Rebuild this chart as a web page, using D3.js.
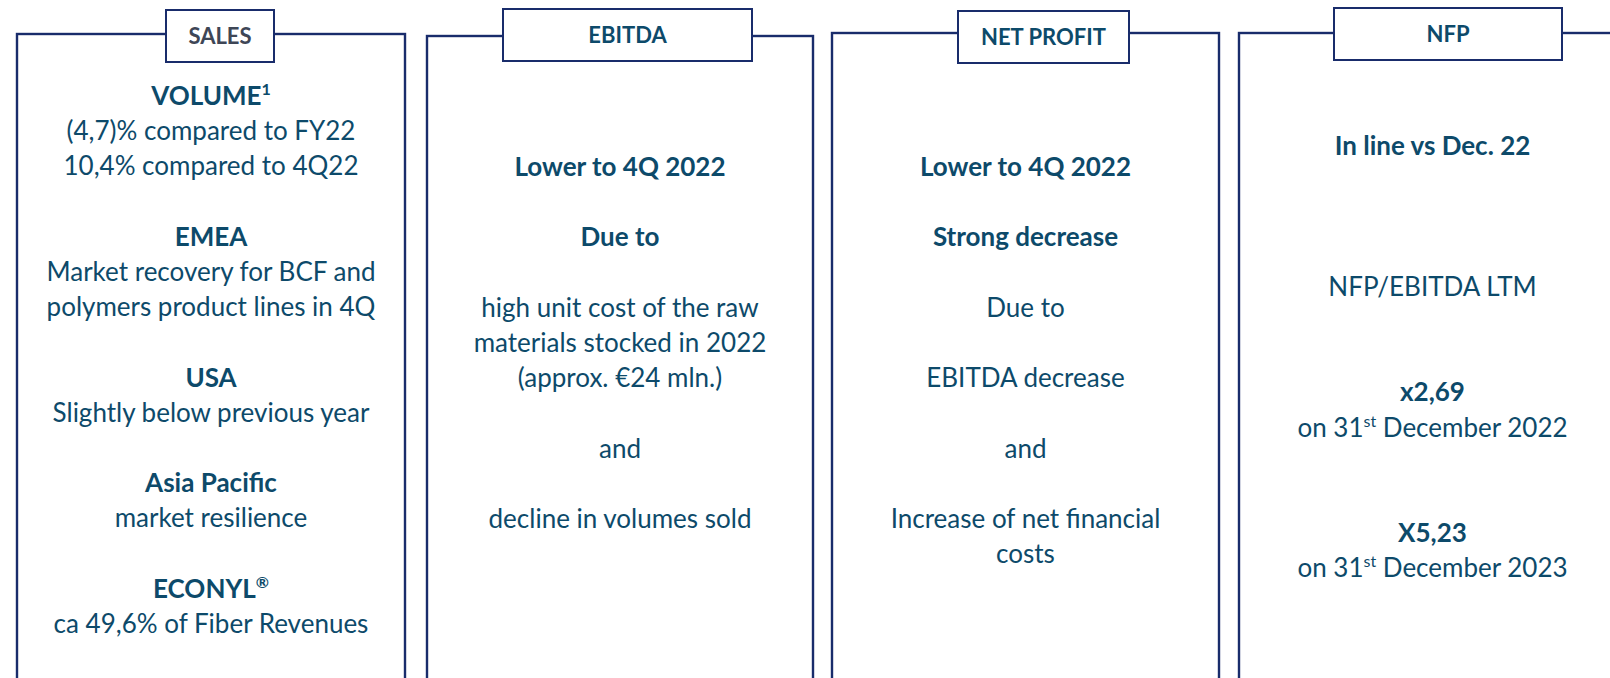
<!DOCTYPE html>
<html>
<head>
<meta charset="utf-8">
<script src="https://cdn.jsdelivr.net/npm/d3@7"></script>
<style>
  html, body { margin: 0; padding: 0; background: #fff; }
  svg { display: block; }
</style>
</head>
<body>
<div id="chart"></div>
<script>
const WIDTH = 1610;
const HEIGHT = 678;

// panel titles
const titles = ['SALES', 'EBITDA', 'NET PROFIT', 'NFP'];

// text of each panel, one entry per line slot ('' = empty line)
// '#' marks a bold line, '^' starts a superscript
const salesLines = [
    '#VOLUME^1', '(4,7)% compared to FY22', '10,4% compared to 4Q22', '',
    '#EMEA', 'Market recovery for BCF and', 'polymers product lines in 4Q', '',
    '#USA', 'Slightly below previous year', '',
    '#Asia Pacific', 'market resilience', '',
    '#ECONYL^®', 'ca 49,6% of Fiber Revenues'
];
const ebitdaLines = [
    '#Lower to 4Q 2022', '',
    '#Due to', '',
    'high unit cost of the raw', 'materials stocked in 2022', '(approx. €24 mln.)', '',
    'and', '',
    'decline in volumes sold'
];
const netProfitLines = [
    '#Lower to 4Q 2022', '',
    '#Strong decrease', '',
    'Due to', '',
    'EBITDA decrease', '',
    'and', '',
    'Increase of net financial', 'costs'
];
const nfpLines = [
    '#In line vs Dec. 22', '', '', '',
    'NFP/EBITDA LTM', '', '',
    '#x2,69', 'on 31^st December 2022', '', '',
    '#X5,23', 'on 31^st December 2023'
];
const panelLines = [salesLines, ebitdaLines, netProfitLines, nfpLines];

// layout (not data)
const boxX = [17, 427, 832, 1239];
const boxW = [388, 386, 387, 387];
const boxTop = [34, 36, 33, 33];
const firstLineY = [96, 167, 167, 146];
const tabs = [
    { x: 166, w: 108, y: 10 },
    { x: 503, w: 249, y: 9 },
    { x: 958, w: 171, y: 11 },
    { x: 1334, w: 228, y: 8 }
];
const LINE_STEP = 35.2;
const TAB_H = 52;

const LINE_COLOR = '#192c6b';
const TEXT_COLOR = '#0d4a6a';
const SALES_COLOR = '#3e4656';
const FONT = 'Lato, "Open Sans", sans-serif';

const svg = d3.select('#chart')
    .append('svg')
    .attr('width', WIDTH)
    .attr('height', HEIGHT);

svg.append('rect')
    .attr('width', WIDTH)
    .attr('height', HEIGHT)
    .attr('fill', '#fff');

const panels = svg.selectAll('g.panel')
    .data(titles.map((t, i) => ({ title: t, i: i, lines: panelLines[i] })))
    .enter().append('g')
    .attr('class', 'panel');

// outer box, open at the bottom of the page
panels.append('rect')
    .attr('x', d => boxX[d.i])
    .attr('y', d => boxTop[d.i])
    .attr('width', d => boxW[d.i])
    .attr('height', HEIGHT + 40)
    .attr('fill', 'none')
    .attr('stroke', LINE_COLOR)
    .attr('stroke-width', 2.4);

// title tab
panels.append('rect')
    .attr('x', d => tabs[d.i].x)
    .attr('y', d => tabs[d.i].y)
    .attr('width', d => tabs[d.i].w)
    .attr('height', TAB_H)
    .attr('fill', '#fff')
    .attr('stroke', LINE_COLOR)
    .attr('stroke-width', 2);

panels.append('text')
    .attr('x', d => tabs[d.i].x + tabs[d.i].w / 2)
    .attr('y', d => tabs[d.i].y + TAB_H / 2 + 8)
    .attr('text-anchor', 'middle')
    .attr('font-family', FONT)
    .attr('font-weight', 'bold')
    .attr('font-size', 22)
    .attr('fill', d => d.i === 0 ? SALES_COLOR : TEXT_COLOR)
    .text(d => d.title);

// body lines
panels.each(function(d) {
    const g = d3.select(this);
    const cx = boxX[d.i] + boxW[d.i] / 2;
    const rows = d.lines
        .map((s, k) => ({ s: s, k: k }))
        .filter(r => r.s !== '');

    const txt = g.selectAll('text.line')
        .data(rows)
        .enter().append('text')
        .attr('class', 'line')
        .attr('x', cx)
        .attr('y', r => firstLineY[d.i] + r.k * LINE_STEP + 9)
        .attr('text-anchor', 'middle')
        .attr('font-family', FONT)
        .attr('font-size', 26)
        .attr('font-weight', r => r.s.startsWith('#') ? 'bold' : 'normal')
        .attr('fill', TEXT_COLOR);

    txt.each(function(r) {
        const el = d3.select(this);
        let s = r.s.replace(/^#/, '');
        const m = s.match(/^(.*?)\^(\S+)(.*)$/);
        if (!m) {
            el.text(s);
            return;
        }
        el.append('tspan').text(m[1]);
        el.append('tspan')
            .attr('font-size', 16)
            .attr('dy', -10)
            .text(m[2]);
        if (m[3]) {
            el.append('tspan')
                .attr('dy', 10)
                .text(m[3]);
        }
    });
});
</script>
</body>
</html>
